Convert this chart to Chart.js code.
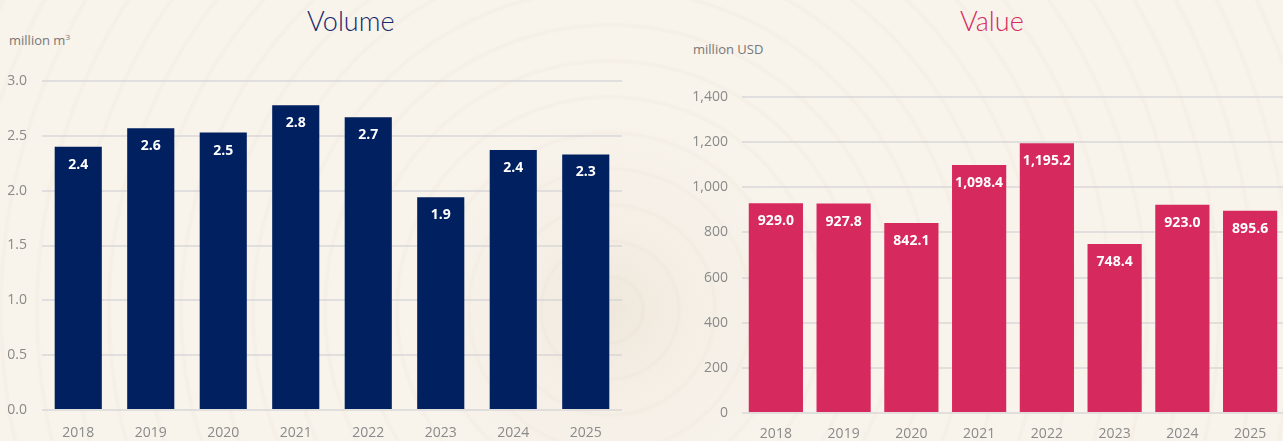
<!DOCTYPE html>
<html>
<head>
<meta charset="utf-8">
<script src="https://cdn.jsdelivr.net/npm/chart.js@4"></script>
<style>
  html, body { margin: 0; padding: 0; }
  body {
    width: 1283px; height: 441px; overflow: hidden; position: relative;
    background-color: #f8f3eb;
    background-image:
      radial-gradient(circle at 610px 310px, rgba(190,170,140,0.16) 0px, rgba(190,170,140,0.05) 90px, rgba(190,170,140,0) 200px),
      repeating-radial-gradient(circle at 610px 310px, rgba(180,160,130,0) 0px, rgba(180,160,130,0) 30px, rgba(180,160,130,0.05) 33px, rgba(180,160,130,0) 36px);
    font-family: "Open Sans", sans-serif;
  }
  .title { position: absolute; top: 4px; font-family: Lato, "Noto Sans", sans-serif; font-weight: 300; font-size: 27px; }
  .unit { position: absolute; font-size: 13px; color: #777; }
  .box { position: absolute; top: 0; height: 441px; }
</style>
</head>
<body>
<div class="title" style="left:307px; color:#14286b;">Volume</div>
<div class="title" style="left:960px; color:#d72a5e;">Value</div>
<div class="unit" style="left:9px; top:31px;">million m<sup style="font-size:8px">3</sup></div>
<div class="unit" style="left:693px; top:40px;">million USD</div>
<div class="box" style="left:0; width:640px;"><canvas id="volumeChart"></canvas></div>
<div class="box" style="left:640px; width:644px;"><canvas id="valueChart"></canvas></div>

<script>
const years = ['2018', '2019', '2020', '2021', '2022', '2023', '2024', '2025'];
const volumeData = [2.40, 2.57, 2.53, 2.78, 2.67, 1.94, 2.37, 2.33];
const valueData = [929.0, 927.8, 842.1, 1098.4, 1195.2, 748.4, 923.0, 895.6];
const volumeTicks = [0, 0.5, 1.0, 1.5, 2.0, 2.5, 3.0];
const valueTicks = [0, 200, 400, 600, 800, 1000, 1200, 1400];

// white labels just below each bar top
const barLabels = {
  id: 'barLabels',
  afterDatasetsDraw(chart, args, opts) {
    const ctx = chart.ctx;
    const meta = chart.getDatasetMeta(0);
    ctx.save();
    ctx.fillStyle = '#fff';
    ctx.font = 'bold 14px "Open Sans", sans-serif';
    ctx.textAlign = 'center';
    ctx.textBaseline = 'middle';
    meta.data.forEach((bar, i) => {
      ctx.fillText(opts.format(chart.data.datasets[0].data[i]), bar.x, bar.y + 18);
    });
    ctx.restore();
  }
};

function makeChart(id, data, color, ticks, cfg) {
  return new Chart(document.getElementById(id), {
    type: 'bar',
    data: {
      labels: years,
      datasets: [{
        data: data,
        backgroundColor: color,
        categoryPercentage: 1,
        barPercentage: cfg.barPct
      }]
    },
    options: {
      responsive: true,
      maintainAspectRatio: false,
      animation: false,
      layout: { padding: cfg.padding },
      plugins: {
        legend: { display: false },
        tooltip: { enabled: false },
        barLabels: { format: cfg.format }
      },
      scales: {
        x: {
          grid: { display: false },
          border: { display: false },
          ticks: { color: '#8a8a8a', font: { size: 14, family: '"Open Sans", sans-serif' }, padding: cfg.xPad },
          afterFit(scale) { scale.height = cfg.xHeight; }
        },
        y: {
          min: 0,
          max: ticks[ticks.length - 1],
          afterBuildTicks(scale) { scale.ticks = ticks.map(v => ({ value: v })); },
          grid: { color: 'rgba(205,205,210,0.55)', lineWidth: 2, drawTicks: false },
          border: { display: false },
          ticks: {
            color: '#8a8a8a',
            font: { size: 14, family: '"Open Sans", sans-serif' },
            padding: cfg.yPad,
            callback: cfg.tickFormat
          },
          afterFit(scale) { scale.width = cfg.yWidth; }
        }
      }
    },
    plugins: [barLabels]
  });
}

makeChart('volumeChart', volumeData, '#002060', volumeTicks, {
  barPct: 0.65,
  padding: { top: 81, right: 18, bottom: 0, left: 0 },
  yWidth: 42, yPad: 15, xHeight: 31, xPad: 7,
  tickFormat: v => v.toFixed(1),
  format: v => v.toFixed(1)
});

makeChart('valueChart', valueData, '#d6295e', valueTicks, {
  barPct: 0.8,
  padding: { top: 97, right: 0, bottom: 0, left: 0 },
  yWidth: 102, yPad: 14, xHeight: 28, xPad: 5,
  tickFormat: v => v.toLocaleString('en-US'),
  format: v => v.toLocaleString('en-US', { minimumFractionDigits: 1, maximumFractionDigits: 1 })
});
</script>
</body>
</html>
